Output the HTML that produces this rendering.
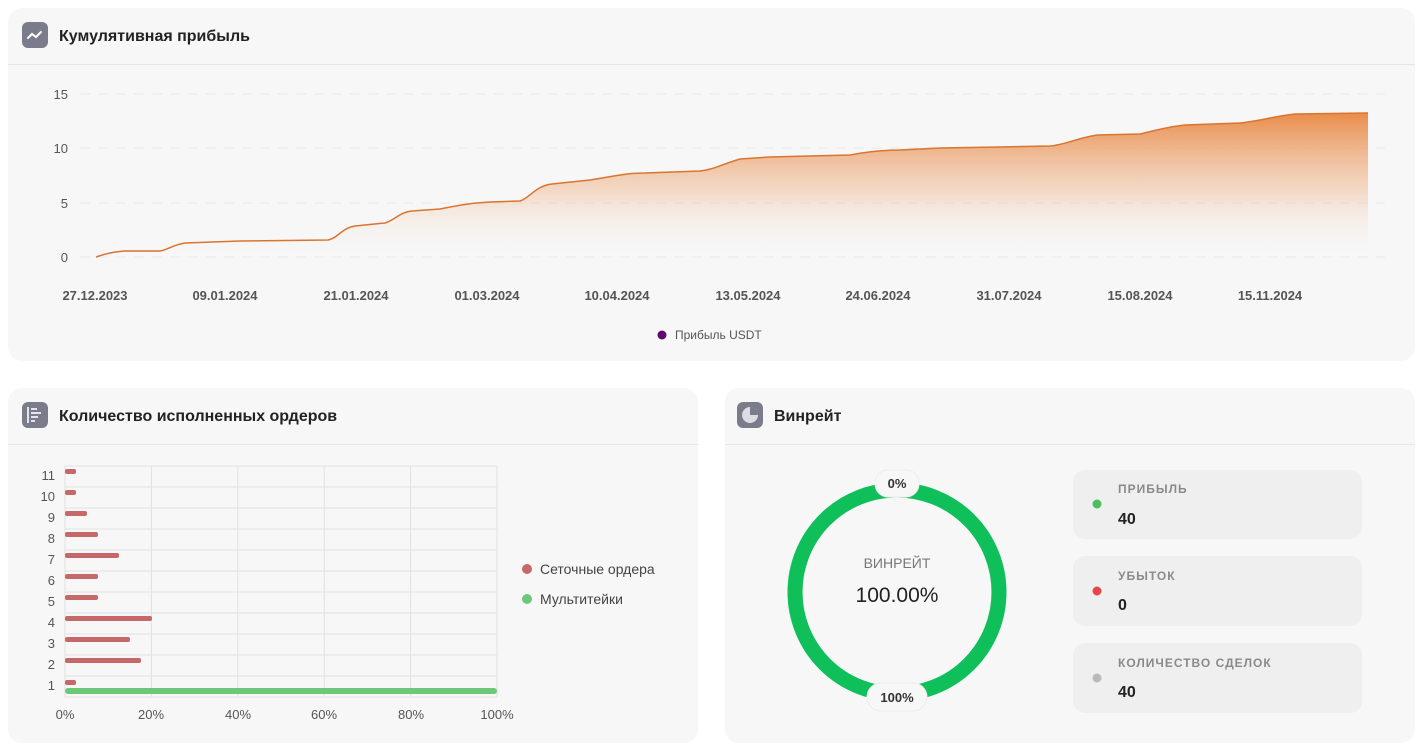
<!DOCTYPE html>
<html><head><meta charset="utf-8"><style>
body{margin:0;background:#fff;width:1423px;height:750px;overflow:hidden}
svg{display:block;font-family:"Liberation Sans","Noto Sans CJK SC",sans-serif}
</style></head><body>
<svg width="1423" height="750" viewBox="0 0 1423 750">
<defs>
<linearGradient id="ag" gradientUnits="userSpaceOnUse" x1="0" y1="110" x2="0" y2="257">
<stop offset="0" stop-color="#e8823a" stop-opacity="0.95"/>
<stop offset="0.55" stop-color="#eeb48a" stop-opacity="0.45"/>
<stop offset="1" stop-color="#f7f7f7" stop-opacity="0"/>
</linearGradient>
</defs>
<rect x="8" y="8" width="1407" height="353" rx="14" fill="#f7f7f7"/>
<line x1="8" y1="64.5" x2="1415" y2="64.5" stroke="#e6e6e6"/>
<rect x="8" y="388" width="690" height="355" rx="14" fill="#f7f7f7"/>
<line x1="8" y1="444.5" x2="698" y2="444.5" stroke="#e6e6e6"/>
<rect x="725" y="388" width="690" height="355" rx="14" fill="#f7f7f7"/>
<line x1="725" y1="444.5" x2="1415" y2="444.5" stroke="#e6e6e6"/>
<rect x="22" y="22" width="26" height="26" rx="6" fill="#7b7c8b"/>
<path d="M28 38 l4-4 4 3 5-5" stroke="#fff" stroke-width="2" fill="none" stroke-linecap="round"/>
<rect x="22" y="402" width="26" height="26" rx="6" fill="#7b7c8b"/>
<path d="M28 407v16M31 409h6M31 413h10M31 417h7M31 421h4" stroke="#e4e4ea" stroke-width="2"/>
<rect x="737" y="402" width="26" height="26" rx="6" fill="#7b7c8b"/>
<circle cx="750" cy="415" r="8" fill="#dcdce4"/><path d="M750 415V407A8 8 0 0 1 758 415Z" fill="#7b7c8b"/>
<text x="59" y="41" font-size="16" font-weight="bold" fill="#222">Кумулятивная прибыль</text>
<text x="59" y="421" font-size="16" font-weight="bold" fill="#222">Количество исполненных ордеров</text>
<text x="774" y="421" font-size="16" font-weight="bold" fill="#222">Винрейт</text>
<g stroke="#e8e8e8" stroke-dasharray="10 8">
<line x1="80" y1="94" x2="1385" y2="94"/><line x1="80" y1="148" x2="1385" y2="148"/>
<line x1="80" y1="203" x2="1385" y2="203"/><line x1="80" y1="257" x2="1385" y2="257"/>
</g>
<g font-size="13" fill="#555" text-anchor="end">
<text x="68" y="99">15</text><text x="68" y="153">10</text><text x="68" y="208">5</text><text x="68" y="262">0</text>
</g>
<path d="M96 257 C105 254,112 252,125 251 L160 251 C168 250,172 245,185 243 L240 241 L328 240 C338 238,342 228,355 226 L385 223 C395 220,400 212,412 211 L440 209 C455 206,470 203,490 202 L520 201 C530 198,535 186,552 184 L590 180 C610 177,625 173,645 173 L700 171 C712 170,720 165,740 159 L770 157 L850 155 C860 153,880 150,900 150 L940 148 L1000 147 L1050 146 C1065 145,1080 137,1098 135 L1140 134 C1150 132,1165 127,1185 125 L1240 123 C1260 121,1275 116,1295 114 L1368 113 L1368 257 L96 257 Z" fill="url(#ag)"/>
<path d="M96 257 C105 254,112 252,125 251 L160 251 C168 250,172 245,185 243 L240 241 L328 240 C338 238,342 228,355 226 L385 223 C395 220,400 212,412 211 L440 209 C455 206,470 203,490 202 L520 201 C530 198,535 186,552 184 L590 180 C610 177,625 173,645 173 L700 171 C712 170,720 165,740 159 L770 157 L850 155 C860 153,880 150,900 150 L940 148 L1000 147 L1050 146 C1065 145,1080 137,1098 135 L1140 134 C1150 132,1165 127,1185 125 L1240 123 C1260 121,1275 116,1295 114 L1368 113" fill="none" stroke="#d9752f" stroke-width="1.5"/>
<g font-size="13" font-weight="bold" fill="#555" text-anchor="middle">
<text x="95" y="300">27.12.2023</text><text x="225" y="300">09.01.2024</text><text x="356" y="300">21.01.2024</text>
<text x="487" y="300">01.03.2024</text><text x="617" y="300">10.04.2024</text><text x="748" y="300">13.05.2024</text>
<text x="878" y="300">24.06.2024</text><text x="1009" y="300">31.07.2024</text><text x="1140" y="300">15.08.2024</text>
<text x="1270" y="300">15.11.2024</text>
</g>
<circle cx="662" cy="335" r="4.5" fill="#5c0a6e"/>
<text x="675" y="339" font-size="12" fill="#555">Прибыль USDT</text>
<g stroke="#e2e2e2">
<line x1="65" y1="466" x2="497" y2="466"/><line x1="65" y1="487" x2="497" y2="487"/><line x1="65" y1="508" x2="497" y2="508"/>
<line x1="65" y1="529" x2="497" y2="529"/><line x1="65" y1="550" x2="497" y2="550"/><line x1="65" y1="571" x2="497" y2="571"/>
<line x1="65" y1="592" x2="497" y2="592"/><line x1="65" y1="613" x2="497" y2="613"/><line x1="65" y1="634" x2="497" y2="634"/>
<line x1="65" y1="655" x2="497" y2="655"/><line x1="65" y1="676" x2="497" y2="676"/><line x1="65" y1="697" x2="497" y2="697"/>
<line x1="65" y1="466" x2="65" y2="697"/><line x1="151.4" y1="466" x2="151.4" y2="697"/><line x1="237.8" y1="466" x2="237.8" y2="697"/>
<line x1="324.2" y1="466" x2="324.2" y2="697"/><line x1="410.6" y1="466" x2="410.6" y2="697"/><line x1="497" y1="466" x2="497" y2="697"/>
</g>
<g fill="#c76868">
<rect x="65" y="469" width="11" height="5" rx="2"/><rect x="65" y="490" width="11" height="5" rx="2"/>
<rect x="65" y="511" width="22" height="5" rx="2"/><rect x="65" y="532" width="33" height="5" rx="2"/>
<rect x="65" y="553" width="54" height="5" rx="2"/><rect x="65" y="574" width="33" height="5" rx="2"/>
<rect x="65" y="595" width="33" height="5" rx="2"/><rect x="65" y="616" width="87" height="5" rx="2"/>
<rect x="65" y="637" width="65" height="5" rx="2"/><rect x="65" y="658" width="76" height="5" rx="2"/>
<rect x="65" y="680" width="11" height="5" rx="2"/>
</g>
<rect x="65" y="688" width="432" height="6" rx="3" fill="#6cc879"/>
<g font-size="13" fill="#555" text-anchor="end">
<text x="55" y="480">11</text><text x="55" y="501">10</text><text x="55" y="522">9</text><text x="55" y="543">8</text>
<text x="55" y="564">7</text><text x="55" y="585">6</text><text x="55" y="606">5</text><text x="55" y="627">4</text>
<text x="55" y="648">3</text><text x="55" y="669">2</text><text x="55" y="690">1</text>
</g>
<g font-size="13" fill="#555" text-anchor="middle">
<text x="65" y="719">0%</text><text x="151" y="719">20%</text><text x="238" y="719">40%</text>
<text x="324" y="719">60%</text><text x="411" y="719">80%</text><text x="497" y="719">100%</text>
</g>
<circle cx="527" cy="569" r="5" fill="#c76868"/><text x="540" y="574" font-size="14" fill="#444">Сеточные ордера</text>
<circle cx="527" cy="599" r="5" fill="#6cc879"/><text x="540" y="604" font-size="14" fill="#444">Мультитейки</text>
<circle cx="897" cy="592" r="102" fill="none" stroke="#0fbf5a" stroke-width="15"/>
<rect x="875" y="470" width="44" height="27" rx="13" fill="#f7f7f7" stroke="#ececec"/>
<text x="897" y="488" font-size="13" font-weight="bold" fill="#333" text-anchor="middle">0%</text>
<rect x="867" y="683" width="60" height="28" rx="14" fill="#f7f7f7" stroke="#ececec"/>
<text x="897" y="702" font-size="13" font-weight="bold" fill="#333" text-anchor="middle">100%</text>
<text x="897" y="568" font-size="14" fill="#777" text-anchor="middle">ВИНРЕЙТ</text>
<text x="897" y="602" font-size="21" fill="#222" text-anchor="middle">100.00%</text>
<rect x="1073" y="470" width="289" height="69" rx="12" fill="#efefef"/>
<rect x="1073" y="556" width="289" height="70" rx="12" fill="#efefef"/>
<rect x="1073" y="643" width="289" height="70" rx="12" fill="#efefef"/>
<circle cx="1097" cy="504" r="4.5" fill="#4cbf5c"/><circle cx="1097" cy="591" r="4.5" fill="#e54848"/><circle cx="1097" cy="678" r="4.5" fill="#b9b9b9"/>
<g font-size="12" font-weight="bold" fill="#8a8a8a" letter-spacing="1">
<text x="1118" y="493">ПРИБЫЛЬ</text><text x="1118" y="580">УБЫТОК</text><text x="1118" y="667">КОЛИЧЕСТВО СДЕЛОК</text>
</g>
<g font-size="16" font-weight="bold" fill="#222">
<text x="1118" y="524">40</text><text x="1118" y="610">0</text><text x="1118" y="697">40</text>
</g>
</svg>
</body></html>
